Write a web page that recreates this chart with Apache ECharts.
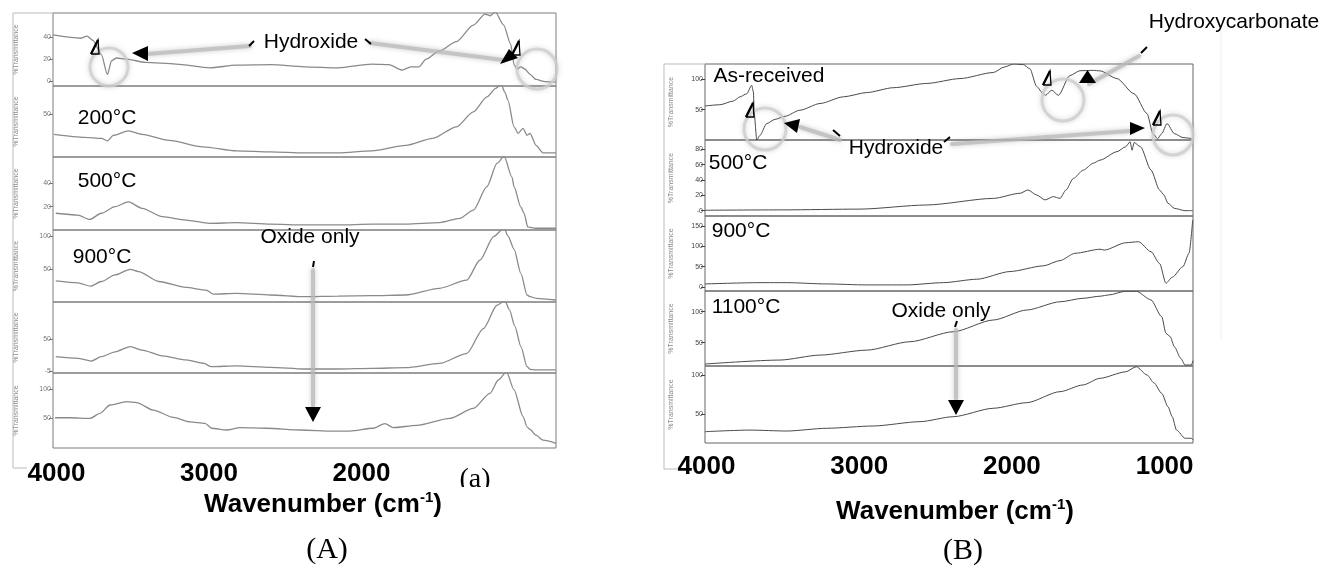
<!DOCTYPE html>
<html>
<head>
<meta charset="utf-8">
<title>FTIR spectra</title>
<script src="https://cdn.jsdelivr.net/npm/echarts@6/dist/echarts.min.js"></script>
<style>
  html, body { margin: 0; padding: 0; background: #fff; }
  #chart { width: 1324px; height: 566px; }
</style>
</head>
<body>
<div id="chart"></div>
<script>
// ---- data: [wavenumber (cm-1), %T] ----
const wavenumberTicksA = [4000, 3000, 2000];
const wavenumberTicksB = [4000, 3000, 2000, 1000];

const yTicksA = [[0, 20, 40], [50], [20, 40], [50, 100], [-5, 50], [50, 100]];
const yTickTextA = [['0', '20', '40'], ['50'], ['20', '40'], ['50', '100'], ['-5', '50'], ['50', '100']];
const yTicksB = [[50, 100], [0, 20, 40, 60, 80], [0, 50, 100, 150], [50, 100], [50, 100]];
const yTickTextB = [['50', '100'], ['-0', '20', '40', '60', '80'], ['0', '50', '100', '150'], ['50', '100'], ['50', '100']];

const sampleLabelsA = ['', '200°C', '500°C', '900°C', '', ''];
const sampleLabelsB = ['As-received', '500°C', '900°C', '1100°C', ''];

const specA1 = [[4023,42],[3839,39],[3800,41],[3761,37],[3706,24],[3666,6],[3639,18.5],[3606,21],[3539,20],[3417,17],[3218,15.5],[2996,12],[2819,14.5],[2597,15],[2375,13],[2154,12],[1932,15.5],[1821,15],[1733,10],[1677,13],[1622,13],[1577,20],[1489,27.5],[1378,36],[1267,51],[1190,61],[1156,59.5],[1123,63],[1068,51],[1023,34],[1000,15],[980,11],[955,13],[930,11],[895,6],[856,1.5],[797,-0.5],[725,-1]];
const specA2 = [[4016,30],[3816,27],[3706,26],[3666,23.5],[3628,29],[3528,33.5],[3439,30],[3262,24],[3041,17.5],[2819,13.5],[2597,12.5],[2375,11.5],[2154,11.5],[1932,13.5],[1710,19],[1533,26],[1378,37.5],[1267,52.5],[1178,67.5],[1120,76],[1085,80],[1060,72],[1040,64],[1000,37.5],[974,31],[941,36],[915,29],[895,31],[856,19],[810,11.5],[725,11.5]];
const specA3 = [[4005,14.3],[3860,12.8],[3783,9],[3706,14.3],[3616,20],[3528,24],[3439,18.5],[3306,11.4],[3151,8.5],[2996,5.7],[2819,6.3],[2597,5],[2375,4.3],[2154,4.3],[1932,5],[1710,5],[1489,6.3],[1356,10],[1267,17],[1178,37],[1112,57],[1065,63],[1013,45],[1000,37],[957,20],[935,14.5],[910,2.6],[860,1.5],[725,1.5]];
const specA4 = [[4005,32],[3860,29],[3776,24],[3706,31],[3616,41],[3517,49.5],[3462,46],[3329,31],[3151,22],[3018,18],[2974,12],[2819,13],[2597,10.6],[2375,8],[2154,9],[1932,9.6],[1710,10.6],[1489,20.7],[1311,33],[1223,63.6],[1134,99],[1065,112],[1040,100],[1000,80],[955,43],[915,10.6],[895,8],[856,5.6],[725,3]];
const specA5 = [[4005,19.6],[3860,16.8],[3772,12],[3706,19.6],[3616,28],[3517,37],[3439,31],[3306,21],[3151,14],[3033,8],[2985,2.4],[2819,4],[2597,1.4],[2375,-1.5],[2154,-1.5],[1932,-0.3],[1710,0.7],[1489,8],[1311,25],[1201,68],[1112,108],[1060,116],[1030,100],[995,72],[955,37],[915,2.4],[895,-2],[856,-3],[725,-3]];
const specA6 = [[4010,51],[3911,51],[3780,50],[3715,58.6],[3649,73],[3540,78.6],[3474,77],[3365,64],[3234,51.7],[3125,44],[3026,41.4],[2982,33],[2884,30],[2797,34],[2622,33],[2403,30],[2185,28],[2076,28],[1923,33],[1846,41],[1792,34],[1638,38],[1420,50],[1267,67],[1158,93],[1103,116],[1050,130],[1000,99],[941,53],[915,35.5],[895,31],[856,21],[810,12.6],[725,7]];

const specB1 = [[4010,56],[3912,58],[3825,64],[3781,71],[3737,76],[3704,90],[3693,79],[3687,41],[3671,0],[3650,7.7],[3606,27],[3551,34],[3486,39],[3388,49],[3257,60],[3104,71],[2951,78],[2777,86],[2558,93],[2340,101],[2122,111],[2050,120],[1990,125],[1925,124],[1882,117],[1838,88],[1794,76],[1780,73.5],[1739,82],[1696,73.5],[1620,106],[1554,114],[1467,114.5],[1423,113.7],[1312,101],[1200,76],[1115,43.5],[1076,10.5],[1046,2],[1019,10.5],[984,27],[936,10.5],[880,4],[816,2]];
const specB2 = [[4010,0.5],[3500,1],[2995,2],[2558,7.4],[2122,16],[1947,22.7],[1895,27],[1838,20.5],[1783,14],[1729,18.3],[1685,16],[1646,27],[1598,42],[1532,53],[1467,62],[1423,66],[1312,77],[1255,83.5],[1226,90],[1213,79],[1200,89],[1158,83.5],[1089,53],[1033,27],[1005,20.5],[978,9.6],[936,3],[866,0],[816,0]];
const specB3 = [[4010,7.4],[3650,10.6],[3475,10.6],[3213,7.4],[2951,5],[2689,5],[2449,10.6],[2230,19],[2012,38],[1794,52],[1685,65],[1587,83],[1423,93],[1394,91],[1255,109],[1171,111.6],[1089,87],[1033,58],[991,9],[950,24],[880,50],[840,83],[816,165]];
const specB4 = [[4010,15.6],[3519,22],[3257,30],[2951,38],[2667,51.6],[2384,67.7],[2122,86.6],[1903,102.7],[1685,116],[1535,121.6],[1423,125],[1366,127],[1255,133],[1185,133],[1089,119],[1019,92],[991,65],[964,60],[936,43.5],[895,25],[866,14],[825,14],[814,21]];
const specB5 = [[4010,28],[3715,30],[3475,28.8],[3213,32.3],[2908,35.2],[2602,40.7],[2384,47],[2122,57.7],[1903,64.8],[1685,78.8],[1535,87.3],[1423,95.8],[1255,104],[1185,110.5],[1115,100],[1070,90],[1019,76.7],[978,59.7],[950,47],[922,30],[866,19.6],[825,19.6],[814,17.4]];

const spectraA = [specA1, specA2, specA3, specA4, specA5, specA6];
const spectraB = [specB1, specB2, specB3, specB4, specB5];

// ---- layout ----
const SANS = "'Liberation Sans', Arial, sans-serif";
const SERIF = "'Liberation Serif', 'Times New Roman', serif";

const panelA = { left: 53, right: 556, xMin: 725, xMax: 4023,
  edges: [13, 86, 157, 230, 302, 373, 448],
  yRange: [[-4.5, 62], [7.3, 78.3], [0, 62.4], [0, 109], [-8.4, 113.6], [-1, 128]],
  line: '#8a8a8a', lineWidth: 1.3, frame: '#7d7d7d', tickColor: '#777', labelMargin: 13, nameGap: 33 };
const panelB = { left: 705, right: 1193, xMin: 814, xMax: 4010,
  edges: [64, 140, 216, 291, 366, 443],
  yRange: [[0, 125], [-7, 92.3], [-10, 175], [12.4, 133.4], [13.6, 111.4]],
  line: '#4a4a4a', lineWidth: 1, frame: '#666', tickColor: '#444', labelMargin: 11, nameGap: 30 };

const grids = [], xAxes = [], yAxes = [], series = [];

function addPanel(p, spectra, yTicks, yText, xTicks) {
  const n = spectra.length;
  spectra.forEach((data, i) => {
    const idx = grids.length;
    const last = i === n - 1;
    grids.push({
      left: p.left, width: p.right - p.left,
      top: p.edges[i], height: p.edges[i + 1] - p.edges[i],
      show: true, borderColor: p.frame, borderWidth: 1, backgroundColor: 'transparent'
    });
    xAxes.push({
      type: 'value', gridIndex: idx, min: p.xMin, max: p.xMax, inverse: true,
      axisLine: { show: false }, axisTick: { show: false }, splitLine: { show: false },
      axisLabel: {
        show: last, customValues: xTicks, margin: p.labelMargin,
        fontFamily: SANS, fontSize: 26, fontWeight: 'bold', color: '#000',
        formatter: v => String(v)
      }
    });
    yAxes.push({
      type: 'value', gridIndex: idx, min: p.yRange[i][0], max: p.yRange[i][1],
      axisLine: { show: false }, splitLine: { show: false },
      axisTick: { show: true, customValues: yTicks[i], length: 4, lineStyle: { color: p.tickColor, width: 1 } },
      axisLabel: {
        customValues: yTicks[i], margin: 2, fontFamily: SANS, fontSize: 7, color: p.tickColor,
        formatter: v => { const k = yTicks[i].indexOf(v); return k >= 0 ? yText[i][k] : String(v); }
      },
      name: '%Transmittance', nameLocation: 'middle', nameGap: p.nameGap, nameRotate: 90,
      nameTextStyle: { fontFamily: SANS, fontSize: 7, color: '#888' }
    });
    series.push({
      type: 'line', xAxisIndex: idx, yAxisIndex: idx, data: data,
      showSymbol: false, smooth: 0.25, smoothMonotone: 'x', clip: true,
      lineStyle: { color: p.line, width: p.lineWidth }, silent: true
    });
  });
}
addPanel(panelA, spectraA, yTicksA, yTickTextA, wavenumberTicksA);
addPanel(panelB, spectraB, yTicksB, yTickTextB, wavenumberTicksB);

// ---- annotations ----
const G = [];
function text(t, x, y, size, family) {
  G.push({ type: 'text', x: x, y: y, z: 20,
    style: { text: t, fontFamily: family || SANS, fontSize: size, fill: '#000', textAlign: 'center', textVerticalAlign: 'middle' } });
}
function band(x1, y1, x2, y2) {
  G.push({ type: 'line', z: 10, shape: { x1, y1, x2, y2 },
    style: { stroke: 'rgba(185,185,185,0.75)', lineWidth: 4, lineCap: 'round', shadowBlur: 5, shadowColor: 'rgba(140,140,140,0.6)' } });
}
function ring(cx, cy, r) {
  G.push({ type: 'circle', z: 10, shape: { cx, cy, r },
    style: { fill: 'none', stroke: 'rgba(205,205,205,0.8)', lineWidth: 3, shadowBlur: 5, shadowColor: 'rgba(150,150,150,0.5)' } });
}
function tri(pts) {
  G.push({ type: 'polygon', z: 21, shape: { points: pts }, style: { fill: '#000' } });
}
function tick(x1, y1, x2, y2) {
  G.push({ type: 'line', z: 21, shape: { x1, y1, x2, y2 }, style: { stroke: '#000', lineWidth: 2 } });
}
function frameLine(x1, y1, x2, y2, c) {
  G.push({ type: 'line', z: 5, shape: { x1, y1, x2, y2 }, style: { stroke: c || '#bbb', lineWidth: 1 } });
}
// open delta marker: slanted outline triangle with a heavier left stroke
function delta(x, y) {
  G.push({ type: 'polyline', z: 21, shape: { points: [[x - 4, y + 7], [x + 3, y - 7], [x + 4, y + 7], [x - 4, y + 7]] },
    style: { fill: 'none', stroke: '#000', lineWidth: 1.3 } });
  G.push({ type: 'line', z: 21, shape: { x1: x - 4, y1: y + 7, x2: x + 3, y2: y - 7 }, style: { stroke: '#000', lineWidth: 2.4 } });
}

// panel A sample labels
const labelPosA = [null, [107, 118], [107, 181], [102, 257], null, null];
sampleLabelsA.forEach((t, i) => { if (t) text(t, labelPosA[i][0], labelPosA[i][1], 21); });
// panel B sample labels
const labelPosB = [[769, 76], [738, 163], [741, 231], [746, 307], null];
sampleLabelsB.forEach((t, i) => { if (t) text(t, labelPosB[i][0], labelPosB[i][1], 21); });

// panel A: hydroxide call-outs
ring(109, 67, 19);
ring(537, 69, 20);
band(147, 54, 250, 46);
band(370, 43, 503, 60);
tri([[132, 53], [148, 46], [148, 61]]);
tri([[500, 64], [509, 49], [518, 58]]);
tick(249, 46, 254, 41);
tick(365, 39, 371, 44);
text('Hydroxide', 311, 42, 21);
delta(95, 47);
delta(516, 48);
// panel A: oxide call-out
text('Oxide only', 310, 237, 21);
tick(314, 261, 313, 267);
band(313, 270, 313, 406);
tri([[305, 407], [321, 407], [313, 422]]);

// panel B: hydroxide / hydroxycarbonate call-outs
ring(765, 129, 21);
ring(1063, 100, 21);
ring(1173, 135, 20);
band(800, 127, 840, 140);
band(952, 144, 1130, 131);
band(1139, 56, 1089, 84);
tri([[784, 123], [800, 119], [797, 133]]);
tri([[1130, 122], [1130, 135], [1145, 128]]);
tri([[1079, 83], [1096, 83], [1087.5, 70]]);
tick(833, 130, 840, 136);
tick(944, 142, 950, 137);
tick(1141, 53, 1147, 47);
text('Hydroxide', 896, 148, 21);
text('Hydroxycarbonate', 1234, 22, 21);
delta(750, 110);
delta(1047, 78);
delta(1157, 118);
// panel B: oxide call-out
text('Oxide only', 941, 311, 21);
tick(957, 321, 955, 327);
band(956, 330, 956, 399);
tri([[948, 400], [964, 400], [956, 415]]);

// outer scan frames
frameLine(13, 13, 53, 13); frameLine(13, 13, 13, 468); frameLine(13, 468, 27, 468);
frameLine(664, 64, 705, 64); frameLine(664, 64, 664, 469); frameLine(664, 469, 677, 469);
frameLine(1221, 30, 1221, 340, '#f0f0f0');

// axis titles and panel letters
const titleRich = {
  a: { fontFamily: SANS, fontSize: 26, fontWeight: 'bold', fill: '#000', lineHeight: 30 },
  s: { fontFamily: SANS, fontSize: 15, fontWeight: 'bold', fill: '#000', verticalAlign: 'top', lineHeight: 30 }
};
G.push({ type: 'text', x: 323, y: 505, z: 20,
  style: { text: '{a|Wavenumber (cm}{s|-1}{a|)}', rich: titleRich, textAlign: 'center', textVerticalAlign: 'middle' } });
G.push({ type: 'text', x: 955, y: 512, z: 20,
  style: { text: '{a|Wavenumber (cm}{s|-1}{a|)}', rich: titleRich, textAlign: 'center', textVerticalAlign: 'middle' } });
text('(A)', 327, 550, 30, SERIF);
text('(B)', 963, 551, 30, SERIF);
text('(a)', 475, 480, 28, SERIF);
G.push({ type: 'rect', z: 22, shape: { x: 455, y: 487, width: 45, height: 9 }, style: { fill: '#fff' } });

const chart = echarts.init(document.getElementById('chart'), null, { renderer: 'canvas' });
chart.setOption({
  animation: false,
  backgroundColor: '#fff',
  grid: grids, xAxis: xAxes, yAxis: yAxes, series: series,
  graphic: { elements: G }
});
</script>
</body>
</html>
